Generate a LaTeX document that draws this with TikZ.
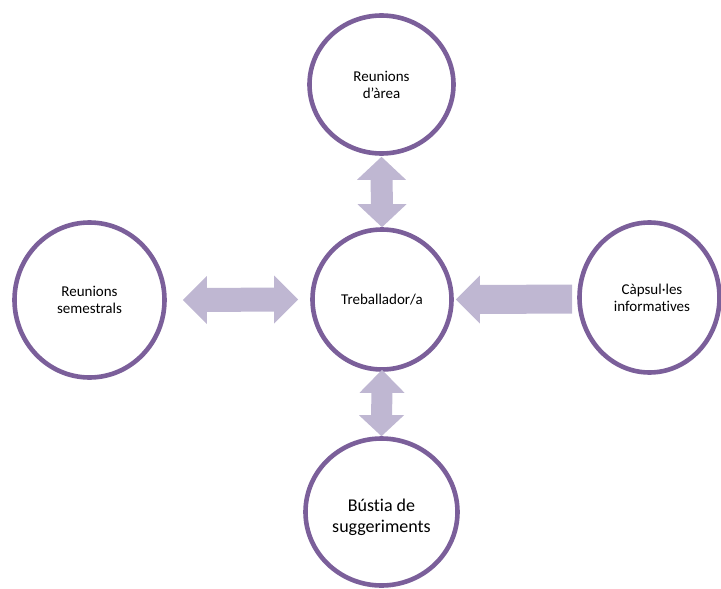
\documentclass[tikz,border=0pt]{standalone}
\usepackage{fontspec}
\setmainfont{Carlito}[Ligatures=NoCommon]
\usetikzlibrary{shapes.geometric,calc}
\definecolor{ringcol}{RGB}{123,95,154}
\definecolor{arrowcol}{RGB}{191,183,210}
\tikzset{
  ring/.style={ellipse, draw=ringcol, line width=4.6pt, fill=white, inner sep=0pt, align=center,
    font=\fontsize{15}{17}\selectfont},
  blockarrow/.style={fill=arrowcol, draw=none}
}
\begin{document}
\begin{tikzpicture}[x=1pt,y=-1pt]
\useasboundingbox (0,0) rectangle (721,589);
% nodes
\node[ring, minimum width=144, minimum height=138] (top) at (381.5,84.5) {Reunions\\d'àrea};
\node[ring, minimum width=139, minimum height=140] (mid) at (382,299.5) {Treballador/a};
\node[ring, minimum width=150, minimum height=155] (left) at (89.5,300) {Reunions\\semestrals};
\node[ring, minimum width=140, minimum height=150] (right) at (649.5,297.5) {\hspace*{5pt}Càpsul·les\\\hspace*{5pt}informatives};
\node[ring, minimum width=152, minimum height=147, font=\fontsize{18}{21}\selectfont] (bot) at (381.5,512)
  {\raisebox{-6pt}[\height][\depth]{\begin{tabular}{@{}c@{}}Bústia de\\suggeriments\end{tabular}}};
% top double arrow
\fill[blockarrow] ([yshift=-1pt]top.south) -- ++(24.5,23) -- ++(-13.5,0) -- ($(mid.north)+(11,-23)$) -- ++(13.5,0)
  -- (mid.north) -- ++(-24.5,-23) -- ++(13.5,0) -- ($([yshift=-1pt]top.south)+(-11,23)$) -- ++(-13.5,0) -- cycle;
% bottom double arrow
\fill[blockarrow] ([yshift=2pt]mid.south) -- ++(22.5,23) -- ++(-12,0) -- ($(bot.north)+(10.5,-21)$) -- ++(12,0)
  -- (bot.north) -- ++(-22.5,-21) -- ++(12,0) -- ($([yshift=2pt]mid.south)+(-10.5,23)$) -- ++(-12,0) -- cycle;
% left double arrow
\fill[blockarrow] ([xshift=16pt]left.east) -- ++(24,-24) -- ++(0,12) -- ($([xshift=-12pt]mid.west)+(-24,-12)$) -- ++(0,-12)
  -- ([xshift=-12pt]mid.west) -- ++(-24,24) -- ++(0,-12) -- ($([xshift=16pt]left.east)+(24,12)$) -- ++(0,12) -- cycle;
% right single arrow
\fill[blockarrow] ([xshift=2pt]mid.east) -- ++(24,-24) -- ++(0,9.5) -- ($([xshift=-5pt]right.west)+(0,-13)$)
  -- ($([xshift=-5pt]right.west)+(0,16)$) -- ($([xshift=2pt]mid.east)+(24,14.5)$) -- ++(0,9.5) -- cycle;
\end{tikzpicture}
\end{document}
